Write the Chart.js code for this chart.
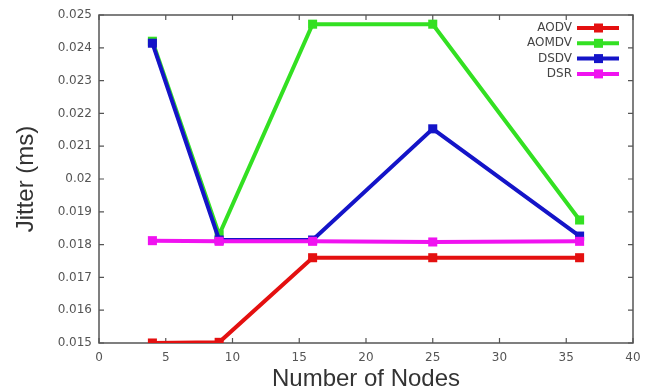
<!DOCTYPE html>
<html>
<head>
<meta charset="utf-8">
<script src="https://cdn.jsdelivr.net/npm/chart.js@4.4.1/dist/chart.umd.min.js"></script>
<style>
  html, body { margin: 0; padding: 0; background: #fff; }
  #wrap { width: 660px; height: 392px; }
</style>
</head>
<body>
<div id="wrap"><canvas id="myChart" width="660" height="392"></canvas></div>
<script>
// data
const nodes = [4, 9, 16, 25, 36];
const aodv  = [0.01500, 0.01502, 0.01760, 0.01760, 0.01760];
const aomdv = [0.02420, 0.01830, 0.02472, 0.02472, 0.01875];
const dsdv  = [0.02414, 0.01814, 0.01814, 0.02153, 0.01826];
const dsr   = [0.01812, 0.01810, 0.01810, 0.01808, 0.01810];

const xTicks = [0, 5, 10, 15, 20, 25, 30, 35, 40];
const yTicks = [0.015, 0.016, 0.017, 0.018, 0.019, 0.02, 0.021, 0.022, 0.023, 0.024, 0.025];

const series = [
    { label: 'AODV',  data: aodv,  color: '#e41010', order: 4 },
    { label: 'AOMDV', data: aomdv, color: '#33e022', order: 3 },
    { label: 'DSDV',  data: dsdv,  color: '#1414c8', order: 2 },
    { label: 'DSR',   data: dsr,   color: '#f012f0', order: 1 }
];

const tickFont = { family: '"DejaVu Sans", sans-serif', size: 12 };
const titleFont = { family: '"Liberation Sans", Arial, sans-serif', size: 24 };

// box around plot with inward tick marks (gnuplot style)
const framePlugin = {
    id: 'frame',
    beforeDatasetsDraw(chart) {
        const { ctx, chartArea: a, scales } = chart;
        ctx.save();
        ctx.strokeStyle = '#555';
        ctx.lineWidth = 1.2;
        ctx.beginPath();
        xTicks.forEach(v => {
            const px = scales.x.getPixelForValue(v);
            ctx.moveTo(px, a.bottom); ctx.lineTo(px, a.bottom - 5);
            ctx.moveTo(px, a.top); ctx.lineTo(px, a.top + 5);
        });
        yTicks.forEach(v => {
            const py = scales.y.getPixelForValue(v);
            ctx.moveTo(a.left, py); ctx.lineTo(a.left + 5, py);
            ctx.moveTo(a.right, py); ctx.lineTo(a.right - 5, py);
        });
        ctx.stroke();
        ctx.lineWidth = 1.5;
        ctx.strokeRect(a.left, a.top, a.right - a.left, a.bottom - a.top);
        ctx.restore();
    }
};

// legend: text right aligned, line sample with square marker on the right
const legendPlugin = {
    id: 'sideLegend',
    afterDraw(chart) {
        const { ctx, chartArea: a } = chart;
        ctx.save();
        ctx.font = '12px "DejaVu Sans", sans-serif';
        ctx.textAlign = 'right';
        ctx.textBaseline = 'middle';
        chart.data.datasets.forEach((ds, i) => {
            const y = a.top + 13 + i * 15.3;
            const xr = a.right - 61;
            ctx.fillStyle = '#444';
            ctx.fillText(ds.label, xr, y);
            ctx.strokeStyle = ds.borderColor;
            ctx.lineWidth = 4;
            ctx.beginPath();
            ctx.moveTo(xr + 5, y);
            ctx.lineTo(xr + 47, y);
            ctx.stroke();
            ctx.fillStyle = ds.borderColor;
            ctx.fillRect(xr + 22, y - 4.5, 9, 9);
        });
        ctx.restore();
    }
};

const ctx = document.getElementById('myChart').getContext('2d');
const myChart = new Chart(ctx, {
    type: 'line',
    data: {
        datasets: series.map(s => ({
            label: s.label,
            data: nodes.map((n, i) => ({ x: n, y: s.data[i] })),
            borderColor: s.color,
            backgroundColor: s.color,
            borderWidth: 4,
            pointStyle: 'rect',
            pointRadius: 6.4,
            pointHoverRadius: 6.4,
            pointBorderWidth: 0,
            tension: 0,
            order: s.order
        }))
    },
    options: {
        responsive: false,
        animation: false,
        layout: { padding: { left: 0, right: 27, top: 15, bottom: 0 } },
        plugins: {
            legend: { display: false },
            tooltip: { enabled: false }
        },
        scales: {
            x: {
                type: 'linear',
                min: 0,
                max: 40,
                afterBuildTicks: s => { s.ticks = xTicks.map(v => ({ value: v })); },
                afterFit: s => { s.height = 49; },
                grid: { display: false, drawTicks: false },
                border: { display: false },
                ticks: { color: '#555', padding: 8, maxRotation: 0, font: tickFont },
                title: {
                    display: true,
                    text: 'Number of Nodes',
                    color: '#333',
                    padding: { top: 0, bottom: -2 },
                    font: titleFont
                }
            },
            y: {
                type: 'linear',
                min: 0.015,
                max: 0.025,
                afterBuildTicks: s => { s.ticks = yTicks.map(v => ({ value: v })); },
                afterFit: s => { s.width = 99; },
                grid: { display: false, drawTicks: false },
                border: { display: false },
                ticks: {
                    color: '#555',
                    padding: 7,
                    callback: v => String(Number(v.toFixed(3))),
                    font: tickFont
                },
                title: {
                    display: true,
                    text: 'Jitter (ms)',
                    color: '#333',
                    padding: { top: 12, bottom: 0 },
                    font: titleFont
                }
            }
        }
    },
    plugins: [framePlugin, legendPlugin]
});
</script>
</body>
</html>
